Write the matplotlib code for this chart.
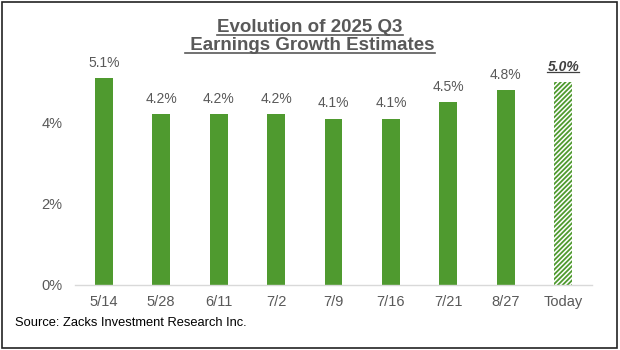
import matplotlib
matplotlib.use("Agg")
import matplotlib.pyplot as plt
from matplotlib.lines import Line2D
from matplotlib.patches import Rectangle

# data
dates = ["5/14", "5/28", "6/11", "7/2", "7/9", "7/16", "7/21", "8/27", "Today"]
growth = [5.1, 4.2, 4.2, 4.2, 4.1, 4.1, 4.5, 4.8, 5.0]
yticks = [0, 2, 4]

GREEN = "#4f9a2f"
GREY = "#595959"

plt.rcParams["font.family"] = ["Liberation Sans", "DejaVu Sans"]
plt.rcParams["hatch.linewidth"] = 1.3

fig = plt.figure(figsize=(6.2, 3.5), dpi=100)
# axes: x 75..592 px, y 70..285 px
ax = fig.add_axes([75 / 620, 65 / 350, 517 / 620, 215 / 350])

x = list(range(len(dates)))
ax.bar(x[:-1], growth[:-1], width=0.31, color=GREEN)
ax.bar(x[-1], growth[-1], width=0.31, color="white", edgecolor=GREEN,
       hatch="///////", linewidth=0)

ax.set_xlim(-0.5, len(dates) - 0.5)
ax.set_ylim(0, 215 / 40.6)
ax.set_xticks(x)
ax.set_xticklabels(dates)
ax.set_yticks(yticks)
ax.set_yticklabels([f"{t}%" for t in yticks])
ax.tick_params(axis="both", length=0, labelsize=10.5, labelcolor=GREY)
ax.tick_params(axis="x", pad=7)
ax.tick_params(axis="y", pad=9)
for s in ["top", "right", "left"]:
    ax.spines[s].set_visible(False)
ax.spines["bottom"].set_color("#d9d9d9")
ax.spines["bottom"].set_linewidth(1.0)

# value labels
for i, v in enumerate(growth[:-1]):
    ax.annotate(f"{v}%", (i, v), xytext=(0, 6), textcoords="offset points",
                ha="center", va="bottom", fontsize=10, color=GREY)
last = ax.annotate(f"{growth[-1]}%", (x[-1], growth[-1]), xytext=(0, 6),
                   textcoords="offset points", ha="center", va="bottom",
                   fontsize=10, color="#404040", fontweight="bold", style="italic")

t1 = fig.text(0.5, 1 - 28 / 350, "Evolution of 2025 Q3", ha="center", va="center",
              fontsize=13.5, fontweight="bold", color=GREY)
t2 = fig.text(0.5, 1 - 45.5 / 350, " Earnings Growth Estimates", ha="center",
              va="center", fontsize=13.5, fontweight="bold", color=GREY)

fig.text(15 / 620, 1 - 323 / 350, "Source: Zacks Investment Research Inc.",
         fontsize=9.3, color="black", va="center")

# underline titles and today's label
fig.canvas.draw()
r = fig.canvas.get_renderer()
inv = fig.transFigure.inverted()
for t, c, lw in [(t1, GREY, 1.2), (t2, GREY, 1.2), (last, "#404040", 0.9)]:
    bb = t.get_window_extent(r)
    (x0, y0), (x1, _) = inv.transform([(bb.x0, bb.y0), (bb.x1, bb.y1)])
    fig.add_artist(Line2D([x0, x1], [y0 + 0.004, y0 + 0.004], color=c, lw=lw,
                          transform=fig.transFigure))

fig.add_artist(Rectangle((0.003, 0.006), 0.992, 0.988, fill=False,
                         edgecolor="#222222", lw=1.2, transform=fig.transFigure))

fig.savefig("out.png", dpi=100)
